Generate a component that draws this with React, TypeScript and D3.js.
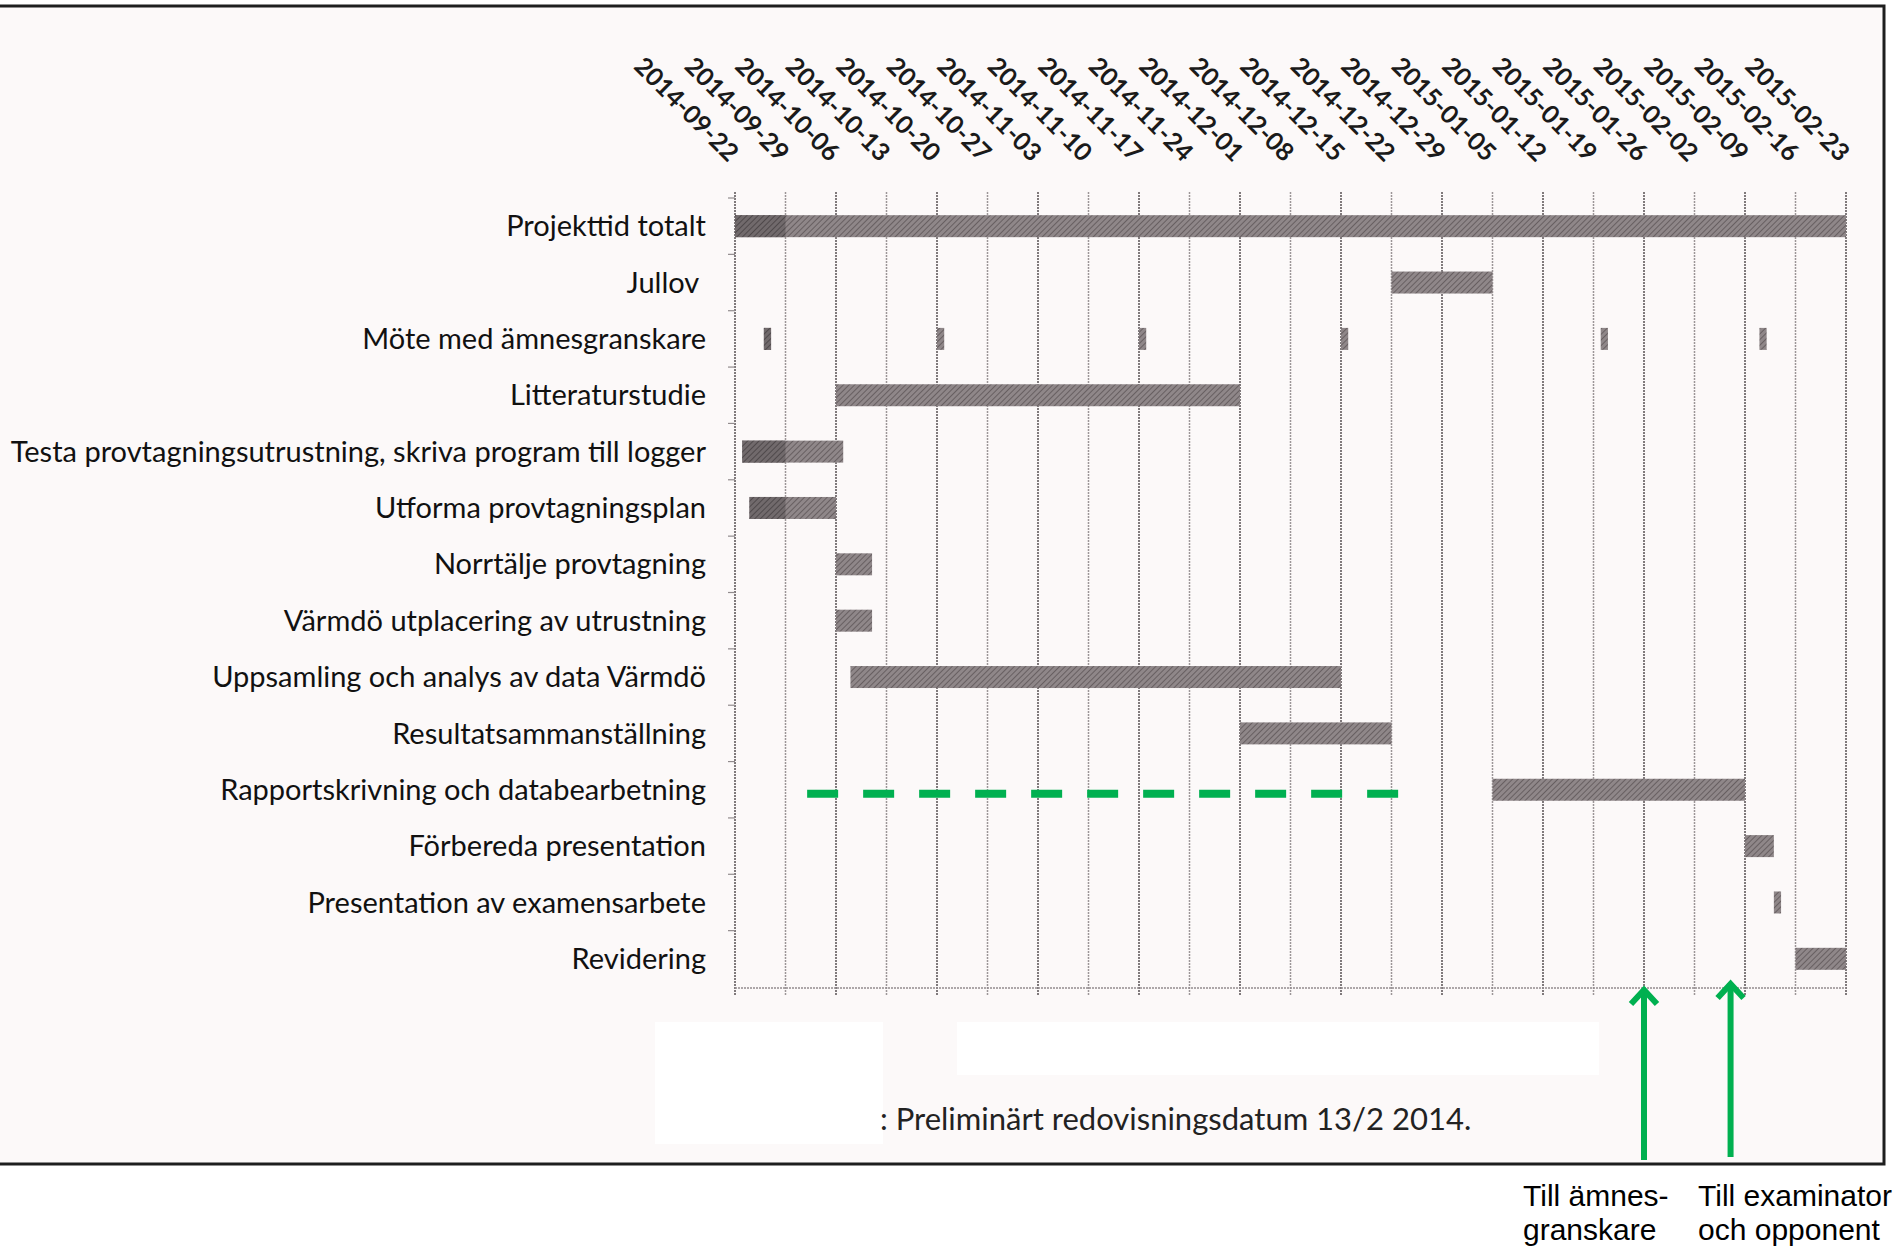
import React from "react";
import * as d3 from "d3";

const tasks = [
  "Projekttid totalt",
  "Jullov\u00a0",
  "Möte med ämnesgranskare",
  "Litteraturstudie",
  "Testa provtagningsutrustning, skriva program till logger",
  "Utforma provtagningsplan",
  "Norrtälje provtagning",
  "Värmdö utplacering av utrustning",
  "Uppsamling och analys av data Värmdö",
  "Resultatsammanställning",
  "Rapportskrivning och databearbetning",
  "Förbereda presentation",
  "Presentation av examensarbete",
  "Revidering",
];

const weekLabels = [
  "2014-09-22", "2014-09-29", "2014-10-06", "2014-10-13", "2014-10-20", "2014-10-27",
  "2014-11-03", "2014-11-10", "2014-11-17", "2014-11-24", "2014-12-01", "2014-12-08",
  "2014-12-15", "2014-12-22", "2014-12-29", "2015-01-05", "2015-01-12", "2015-01-19",
  "2015-01-26", "2015-02-02", "2015-02-09", "2015-02-16", "2015-02-23",
];

// one entry per bar: row, start, end
const barTask = [0, 1, 2, 2, 2, 2, 2, 2, 3, 4, 5, 6, 7, 8, 9, 10, 11, 12, 13];
const barStart = [
  "2014-09-22", "2014-12-22", "2014-09-26", "2014-10-20", "2014-11-17", "2014-12-15",
  "2015-01-20", "2015-02-11", "2014-10-06", "2014-09-23", "2014-09-24", "2014-10-06",
  "2014-10-06", "2014-10-08", "2014-12-01", "2015-01-05", "2015-02-09", "2015-02-13",
  "2015-02-16",
];
const barEnd = [
  "2015-02-23", "2015-01-05", "2014-09-27", "2014-10-21", "2014-11-18", "2014-12-16",
  "2015-01-21", "2015-02-12", "2014-12-01", "2014-10-07", "2014-10-06", "2014-10-11",
  "2014-10-11", "2014-12-15", "2014-12-22", "2015-02-09", "2015-02-13", "2015-02-14",
  "2015-02-23",
];

// green annotations
const plannedTask = 10;
const plannedStart = "2014-10-02";
const plannedEnd = "2014-12-23";
const arrowDates = ["2015-01-26", "2015-02-07"];
const arrowText = [
  ["Till ämnes-", "granskare"],
  ["Till examinator", "och opponent"],
];
const footnote = ": Preliminärt redovisningsdatum 13/2 2014.";

const W = 1899;
const H = 1247;
const parse = d3.utcParse("%Y-%m-%d");
const GREEN = "#00b050";
const LABEL_FONT = "Lato, 'Open Sans', sans-serif";

export default function App() {
  const x = d3
    .scaleUtc()
    .domain([parse(weekLabels[0])!, parse(weekLabels[weekLabels.length - 1])!])
    .range([735, 1846]);
  const y = d3.scaleBand<string>().domain(tasks).range([198, 987]).padding(0);
  const barH = 22;
  const x0 = x.range()[0];
  const x1 = x(parse(weekLabels[1])!);
  const yTop = y.range()[0];
  const yBot = y.range()[1];

  const bars = barTask.map((t, i) => ({
    task: tasks[t],
    s: parse(barStart[i])!,
    e: parse(barEnd[i])!,
  }));

  const arrowTopY = [987, 981];
  const arrowBottomY = [1160, 1157];
  const arrowTextX = [1523, 1698];

  return (
    <svg
      width={W}
      height={H}
      style={{ position: "absolute", left: 0, top: 0, background: "#fff" }}
    >
      <defs>
        <pattern id="hatch" patternUnits="userSpaceOnUse" width="4" height="4" patternTransform="rotate(45)">
          <rect width="4" height="4" fill="#8f8789" />
          <line x1="0" y1="0" x2="0" y2="4" stroke="#675f61" strokeWidth="2" />
        </pattern>
        <pattern id="hatchDark" patternUnits="userSpaceOnUse" width="4" height="4" patternTransform="rotate(45)">
          <rect width="4" height="4" fill="#716a6c" />
          <line x1="0" y1="0" x2="0" y2="4" stroke="#4f494b" strokeWidth="2" />
        </pattern>
        <clipPath id="firstWeek">
          <rect x={x0} y={yTop} width={x1 - x0} height={yBot - yTop} />
        </clipPath>
      </defs>

      {/* scanned page frame */}
      <rect x={-10} y={6} width={1894} height={1158} fill="#fcf9f9" stroke="#1e1e1e" strokeWidth={3} />

      {/* redaction boxes */}
      <rect x={655} y={1022} width={228} height={122} fill="#ffffff" />
      <rect x={957} y={1022} width={642} height={53} fill="#ffffff" />

      {/* week grid */}
      {weekLabels.map((w, i) => (
        <line
          key={"g" + i}
          x1={x(parse(w)!)}
          x2={x(parse(w)!)}
          y1={yTop - 6}
          y2={yBot + 9}
          stroke={i % 2 === 0 ? "#807a7c" : "#9c9698"}
          strokeWidth={i % 2 === 0 ? 2 : 1.5}
          strokeDasharray="2 1"
        />
      ))}
      <line x1={x0} x2={x.range()[1]} y1={yBot + 1} y2={yBot + 1} stroke="#928c8e" strokeWidth={1.6} strokeDasharray="2 1" />
      {tasks.map((t, i) => (
        <line key={"yt" + i} x1={x0 - 7} x2={x0} y1={y(t)!} y2={y(t)!} stroke="#928c8e" strokeWidth={1.2} />
      ))}

      {/* week labels */}
      {weekLabels.map((w, i) => {
        const px = x(parse(w)!) - 7;
        const py = 163;
        return (
          <text
            key={"wl" + i}
            x={px}
            y={py}
            transform={`rotate(45 ${px} ${py})`}
            textAnchor="end"
            fontFamily={LABEL_FONT}
            fontSize={25}
            fontWeight="bold"
            fill="#1a1a1a"
          >
            {w}
          </text>
        );
      })}

      {/* task labels */}
      {tasks.map((t) => (
        <text
          key={t}
          x={706}
          y={y(t)! + y.bandwidth() / 2}
          dy="0.35em"
          textAnchor="end"
          fontFamily={LABEL_FONT}
          fontSize={29}
          fill="#111"
        >
          {t}
        </text>
      ))}

      {/* bars */}
      {bars.map((b, i) => (
        <rect
          key={"b" + i}
          x={x(b.s)}
          y={y(b.task)! + y.bandwidth() / 2 - barH / 2}
          width={Math.max(6, x(b.e) - x(b.s))}
          height={barH}
          fill="url(#hatch)"
        />
      ))}
      <g clipPath="url(#firstWeek)">
        {bars.map((b, i) => (
          <rect
            key={"d" + i}
            x={x(b.s)}
            y={y(b.task)! + y.bandwidth() / 2 - barH / 2}
            width={Math.max(6, x(b.e) - x(b.s))}
            height={barH}
            fill="url(#hatchDark)"
          />
        ))}
      </g>

      {/* planned report period */}
      <line
        x1={x(parse(plannedStart)!)}
        x2={x(parse(plannedEnd)!)}
        y1={y(tasks[plannedTask])! + y.bandwidth() / 2 + 4}
        y2={y(tasks[plannedTask])! + y.bandwidth() / 2 + 4}
        stroke={GREEN}
        strokeWidth={8}
        strokeDasharray="31 25"
      />

      {/* footnote */}
      <text x={880} y={1130} fontFamily={LABEL_FONT} fontSize={31} fill="#222">
        {footnote}
      </text>

      {/* arrows */}
      {arrowDates.map((d, i) => {
        const ax = x(parse(d)!);
        const ty = arrowTopY[i];
        return (
          <g key={"a" + i} stroke={GREEN} strokeWidth={6} fill="none">
            <line x1={ax} x2={ax} y1={ty + 2} y2={arrowBottomY[i]} />
            <polyline points={`${ax - 13},${ty + 17} ${ax},${ty + 3} ${ax + 13},${ty + 17}`} strokeLinejoin="miter" />
          </g>
        );
      })}
      {arrowDates.map((d, i) => (
        <text key={"at" + i} fontFamily="'Liberation Sans', Arial, sans-serif" fontSize={30} fill="#000">
          <tspan x={arrowTextX[i]} y={1206}>{arrowText[i][0]}</tspan>
          <tspan x={arrowTextX[i]} y={1240}>{arrowText[i][1]}</tspan>
        </text>
      ))}
    </svg>
  );
}
